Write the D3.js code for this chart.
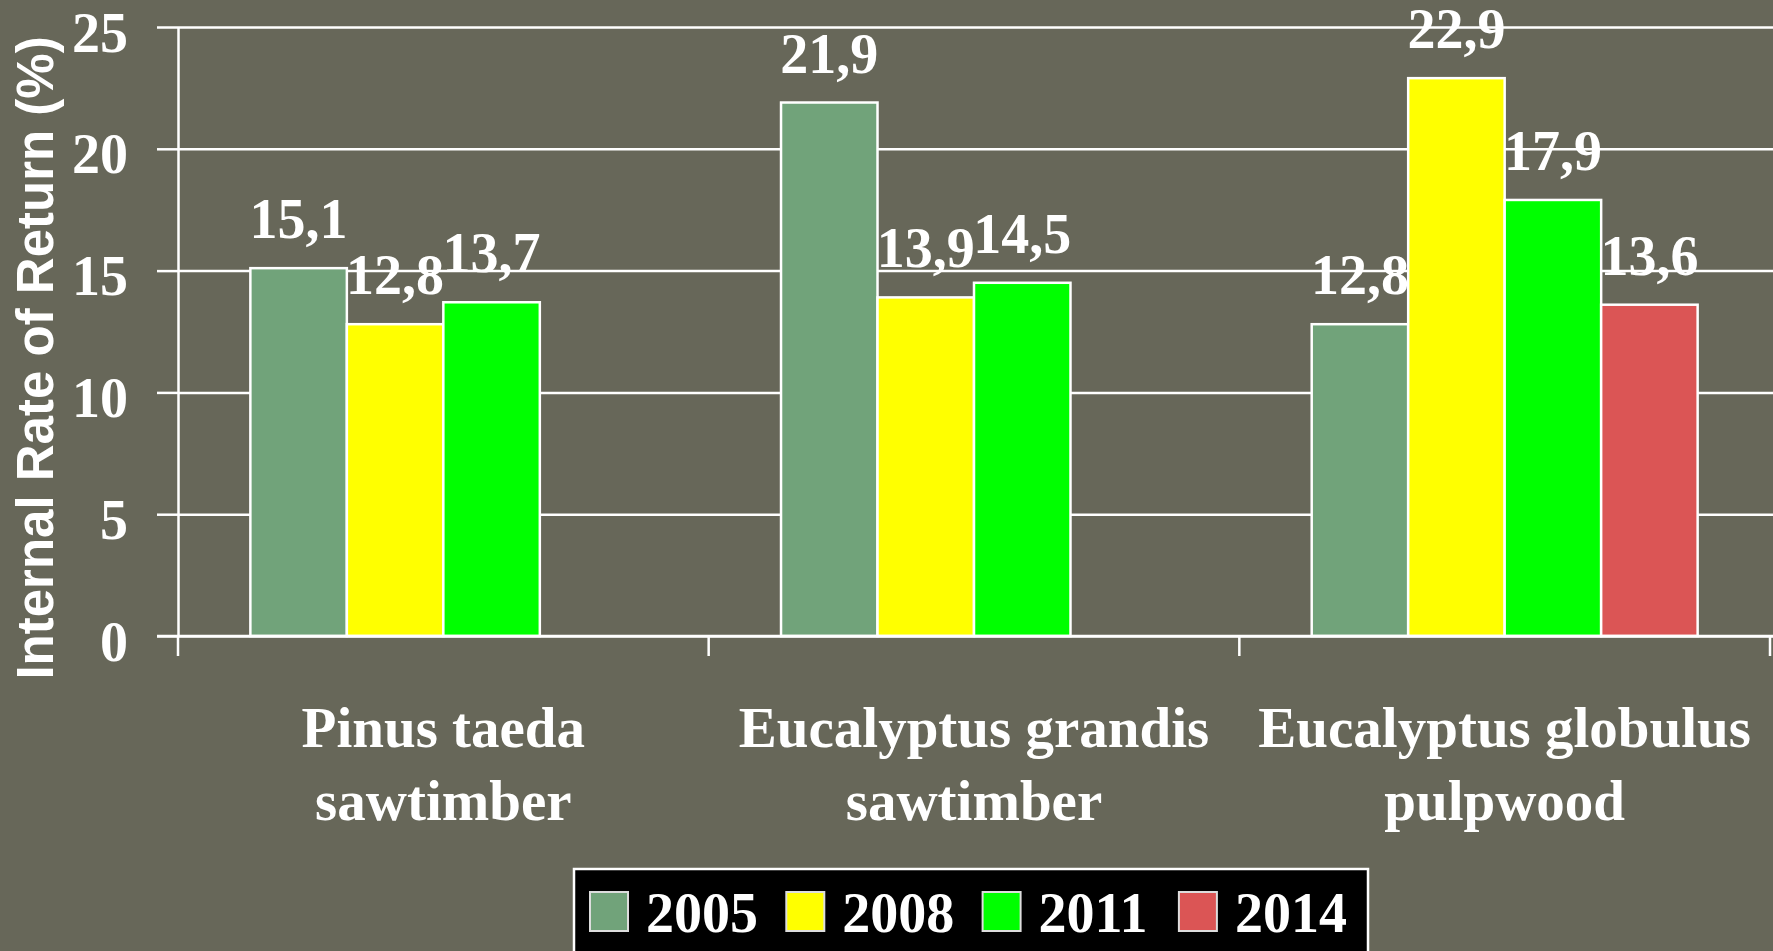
<!DOCTYPE html>
<html>
<head>
<meta charset="utf-8">
<script src="https://cdn.jsdelivr.net/npm/d3@7"></script>
<style>
  html, body { margin: 0; padding: 0; background: #676759; }
  svg { display: block; }
</style>
</head>
<body>
<script>
// data
var categories = ["Pinus taeda sawtimber", "Eucalyptus grandis sawtimber", "Eucalyptus globulus pulpwood"];
var categoryLines = [["Pinus taeda", "sawtimber"], ["Eucalyptus grandis", "sawtimber"], ["Eucalyptus globulus", "pulpwood"]];
var years = ["2005", "2008", "2011", "2014"];
var v2005 = [15.1, 21.9, 12.8];
var v2008 = [12.8, 13.9, 22.9];
var v2011 = [13.7, 14.5, 17.9];
var v2014 = [null, null, 13.6];
var yTicks = [0, 5, 10, 15, 20, 25];
var colors = ["#71a37a", "#ffff00", "#00ff00", "#db5555"];

window.onload = function () {
    draw();
};

function draw() {
    var W = 1773, H = 951;
    var left = 178, right = 1770, top = 27, bottom = 636;
    var serif = "'Liberation Serif', 'Times New Roman', serif";
    var series = [v2005, v2008, v2011, v2014];

    var svg = d3.select("body").append("svg")
        .attr("width", W)
        .attr("height", H);

    svg.append("rect")
        .attr("width", W)
        .attr("height", H)
        .attr("fill", "#676759");

    var y = d3.scaleLinear().domain([0, 25]).range([bottom, top]);
    var x0 = d3.scaleBand().domain(categories).range([left, right]).padding(0);
    var x1 = d3.scaleBand().domain(years).range([0, x0.bandwidth()])
        .paddingInner(0).paddingOuter(0.75);

    // gridlines
    svg.append("g")
        .attr("transform", "translate(" + left + ",0)")
        .call(d3.axisLeft(y).tickValues(yTicks).tickSize(-(W - left)).tickFormat(""))
        .call(function (g) {
            g.select(".domain").remove();
            g.selectAll("line").attr("stroke", "#fff").attr("stroke-width", 2.5);
        });

    // y axis
    svg.append("g")
        .attr("transform", "translate(" + left + ",0)")
        .call(d3.axisLeft(y).tickValues(yTicks).tickSize(21).tickSizeOuter(0).tickPadding(29))
        .call(function (g) {
            g.select(".domain").attr("stroke", "#fff").attr("stroke-width", 2.5);
            g.selectAll("line").attr("stroke", "#fff").attr("stroke-width", 2.5);
            g.selectAll("text")
                .attr("fill", "#fff")
                .attr("font-family", serif)
                .attr("font-weight", "bold")
                .attr("font-size", 56)
                .attr("dy", 24)
                .attr("y", 0);
        });

    // bars
    var groups = svg.selectAll(".grp")
        .data(categories)
        .enter().append("g")
        .attr("class", "grp")
        .attr("transform", function (d) { return "translate(" + x0(d) + ",0)"; });

    groups.selectAll("rect")
        .data(function (d, i) {
            return years.map(function (yr, k) { return { year: yr, k: k, v: series[k][i] }; })
                .filter(function (e) { return e.v != null; });
        })
        .enter().append("rect")
        .attr("x", function (d) { return x1(d.year); })
        .attr("y", function (d) { return y(d.v); })
        .attr("width", x1.bandwidth())
        .attr("height", function (d) { return y(0) - y(d.v); })
        .attr("fill", function (d) { return colors[d.k]; })
        .attr("stroke", "#fff")
        .attr("stroke-width", 2.5);

    // x axis line and ticks
    svg.append("line")
        .attr("x1", 157).attr("x2", W)
        .attr("y1", y(0)).attr("y2", y(0))
        .attr("stroke", "#fff").attr("stroke-width", 2.5);

    var bounds = categories.map(function (c) { return x0(c); });
    bounds.push(x0(categories[categories.length - 1]) + x0.bandwidth());
    svg.selectAll(".xtick")
        .data(bounds)
        .enter().append("line")
        .attr("x1", function (d) { return d; })
        .attr("x2", function (d) { return d; })
        .attr("y1", y(0))
        .attr("y2", y(0) + 20)
        .attr("stroke", "#fff").attr("stroke-width", 2.5);

    // value labels
    groups.selectAll(".val")
        .data(function (d, i) {
            return years.map(function (yr, k) { return { year: yr, k: k, v: series[k][i] }; })
                .filter(function (e) { return e.v != null; });
        })
        .enter().append("text")
        .attr("x", function (d) { return x1(d.year) + x1.bandwidth() / 2; })
        .attr("y", function (d) { return y(d.v) - 30; })
        .attr("text-anchor", "middle")
        .attr("fill", "#fff")
        .attr("font-family", serif)
        .attr("font-weight", "bold")
        .attr("font-size", 56)
        .text(function (d) { return String(d.v).replace(".", ","); });

    // category labels
    categories.forEach(function (c, i) {
        var t = svg.append("text")
            .attr("text-anchor", "middle")
            .attr("fill", "#fff")
            .attr("font-family", serif)
            .attr("font-weight", "bold")
            .attr("font-size", 57);
        categoryLines[i].forEach(function (line, j) {
            t.append("tspan")
                .attr("x", x0(c) + x0.bandwidth() / 2)
                .attr("y", 747 + j * 73)
                .text(line);
        });
    });

    // y axis title
    svg.append("text")
        .attr("transform", "translate(53," + 358 + ") rotate(-90)")
        .attr("text-anchor", "middle")
        .attr("fill", "#fff")
        .attr("font-family", "'Liberation Sans', Arial, sans-serif")
        .attr("font-weight", "bold")
        .attr("font-size", 51)
        .text("Internal Rate of Return (%)");

    // legend
    var legend = svg.append("g");
    legend.append("rect")
        .attr("x", 574).attr("y", 869)
        .attr("width", 794).attr("height", 100)
        .attr("fill", "#000")
        .attr("stroke", "#fff")
        .attr("stroke-width", 2.5);

    var items = legend.selectAll(".item")
        .data(years)
        .enter().append("g")
        .attr("transform", function (d, i) { return "translate(" + (590 + i * 196.3) + ",892)"; });

    items.append("rect")
        .attr("width", 38).attr("height", 39)
        .attr("fill", function (d, i) { return colors[i]; })
        .attr("stroke", "#ddd")
        .attr("stroke-width", 2);

    items.append("text")
        .attr("x", 56)
        .attr("y", 40)
        .attr("fill", "#fff")
        .attr("font-family", serif)
        .attr("font-weight", "bold")
        .attr("font-size", 56)
        .text(function (d) { return d; });
}
</script>
</body>
</html>
